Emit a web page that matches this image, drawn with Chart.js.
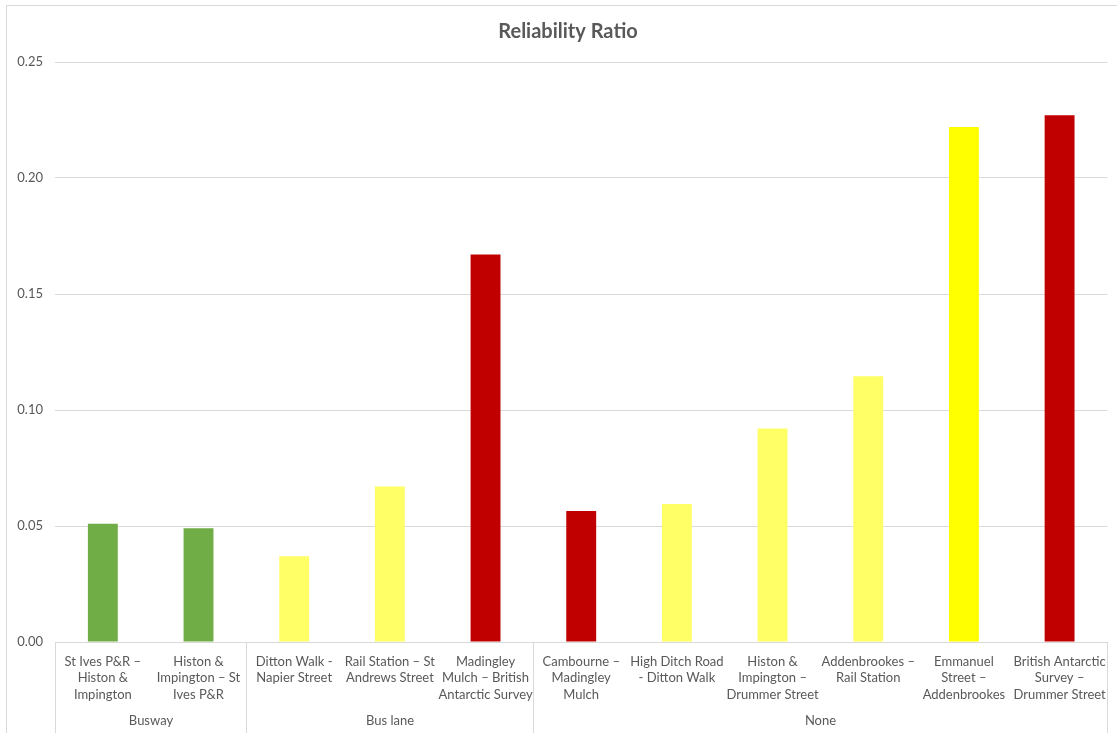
<!DOCTYPE html>
<html>
<head>
<meta charset="utf-8">
<title>Reliability Ratio</title>
<script src="https://cdn.jsdelivr.net/npm/chart.js@4/dist/chart.umd.min.js"></script>
<style>
  html, body { margin: 0; padding: 0; background: #fff; overflow: hidden; }
  #frame {
    position: absolute; left: 6px; top: 5px; width: 1120px; height: 740px;
    border: 1px solid #d9d9d9; box-sizing: border-box;
  }
  #wrap { position: absolute; left: 0; top: 0; width: 1117px; height: 733px; }
</style>
</head>
<body>
<div id="frame"></div>
<div id="wrap"><canvas id="chart"></canvas></div>
<script>
const chartTitle = 'Reliability Ratio';

// route labels (multi-line, as on the axis)
const categories = [
  ['St Ives P&R –', 'Histon &', 'Impington'],
  ['Histon &', 'Impington – St', 'Ives P&R'],
  ['Ditton Walk -', 'Napier Street'],
  ['Rail Station – St', 'Andrews Street'],
  ['Madingley', 'Mulch – British', 'Antarctic Survey'],
  ['Cambourne –', 'Madingley', 'Mulch'],
  ['High Ditch Road', '- Ditton Walk'],
  ['Histon &', 'Impington –', 'Drummer Street'],
  ['Addenbrookes –', 'Rail Station'],
  ['Emmanuel', 'Street –', 'Addenbrookes'],
  ['British Antarctic', 'Survey –', 'Drummer Street'],
];

// outer level of the axis
const categoryGroups = [
  'Busway', 'Busway',
  'Bus lane', 'Bus lane', 'Bus lane',
  'None', 'None', 'None', 'None', 'None', 'None',
];

const ratios = [0.051, 0.049, 0.037, 0.067, 0.167, 0.0565, 0.0595, 0.092, 0.1145, 0.222, 0.227];

const barColors = [
  '#70ad47', '#70ad47',
  '#ffff66', '#ffff66', '#c00000',
  '#c00000', '#ffff66', '#ffff66', '#ffff66', '#ffff00', '#c00000',
];

const yTicks = [0, 0.05, 0.10, 0.15, 0.20, 0.25];

const TEXT = '#595959';
const LINE = '#d9d9d9';
const FONT = 'Lato, "Open Sans", sans-serif';

// title + second axis level (group names and separators)
const groupAxis = {
  id: 'groupAxis',
  afterDraw(chart) {
    const x = chart.scales.x;
    const c = chart.ctx;
    const half = (x.getPixelForValue(1) - x.getPixelForValue(0)) / 2;
    const bottom = chart.height;
    const spans = [];
    categoryGroups.forEach((g, i) => {
      const last = spans[spans.length - 1];
      if (last && last.name === g) last.end = i;
      else spans.push({ name: g, start: i, end: i });
    });
    c.save();
    c.fillStyle = TEXT;
    c.textAlign = 'center';
    c.textBaseline = 'middle';
    c.font = 'bold 20px ' + FONT;
    c.fillText(chartTitle, 568, 32);

    c.strokeStyle = LINE;
    c.lineWidth = 1;
    c.font = '13px ' + FONT;
    spans.forEach((s, k) => {
      const left = Math.round(x.getPixelForValue(s.start) - half) + 0.5;
      const right = Math.round(x.getPixelForValue(s.end) + half) + 0.5;
      c.beginPath();
      if (k === 0) { c.moveTo(left, x.top); c.lineTo(left, bottom); }
      c.moveTo(right, x.top);
      c.lineTo(right, bottom);
      c.stroke();
      c.fillText(s.name, (left + right) / 2, 721);
    });
    c.restore();
  },
};

new Chart(document.getElementById('chart'), {
  type: 'bar',
  data: {
    labels: categories,
    datasets: [{
      label: chartTitle,
      data: ratios,
      backgroundColor: barColors,
      borderWidth: 0,
      categoryPercentage: 1,
      barPercentage: 0.3125,
    }],
  },
  options: {
    responsive: true,
    maintainAspectRatio: false,
    animation: false,
    layout: { padding: { left: 0, right: 6, top: 62, bottom: 0 } },
    plugins: {
      legend: { display: false },
      tooltip: { enabled: false },
      title: { display: false },
    },
    scales: {
      x: {
        offset: true,
        grid: { display: false, drawTicks: false },
        border: { display: true, color: LINE },
        ticks: {
          color: TEXT,
          font: { family: FONT, size: 13, lineHeight: 1.28 },
          maxRotation: 0,
          autoSkip: false,
          padding: 11,
        },
        afterFit(scale) { scale.height = 91; },
      },
      y: {
        min: 0,
        max: 0.25,
        afterBuildTicks(scale) { scale.ticks = yTicks.map(v => ({ value: v })); },
        grid: { color: LINE, drawTicks: false },
        border: { display: false },
        ticks: {
          color: TEXT,
          font: { family: FONT, size: 13 },
          padding: 12,
          callback: v => v.toFixed(2),
        },
        afterFit(scale) { scale.width = 55; },
      },
    },
  },
  plugins: [groupAxis],
});
</script>
</body>
</html>
